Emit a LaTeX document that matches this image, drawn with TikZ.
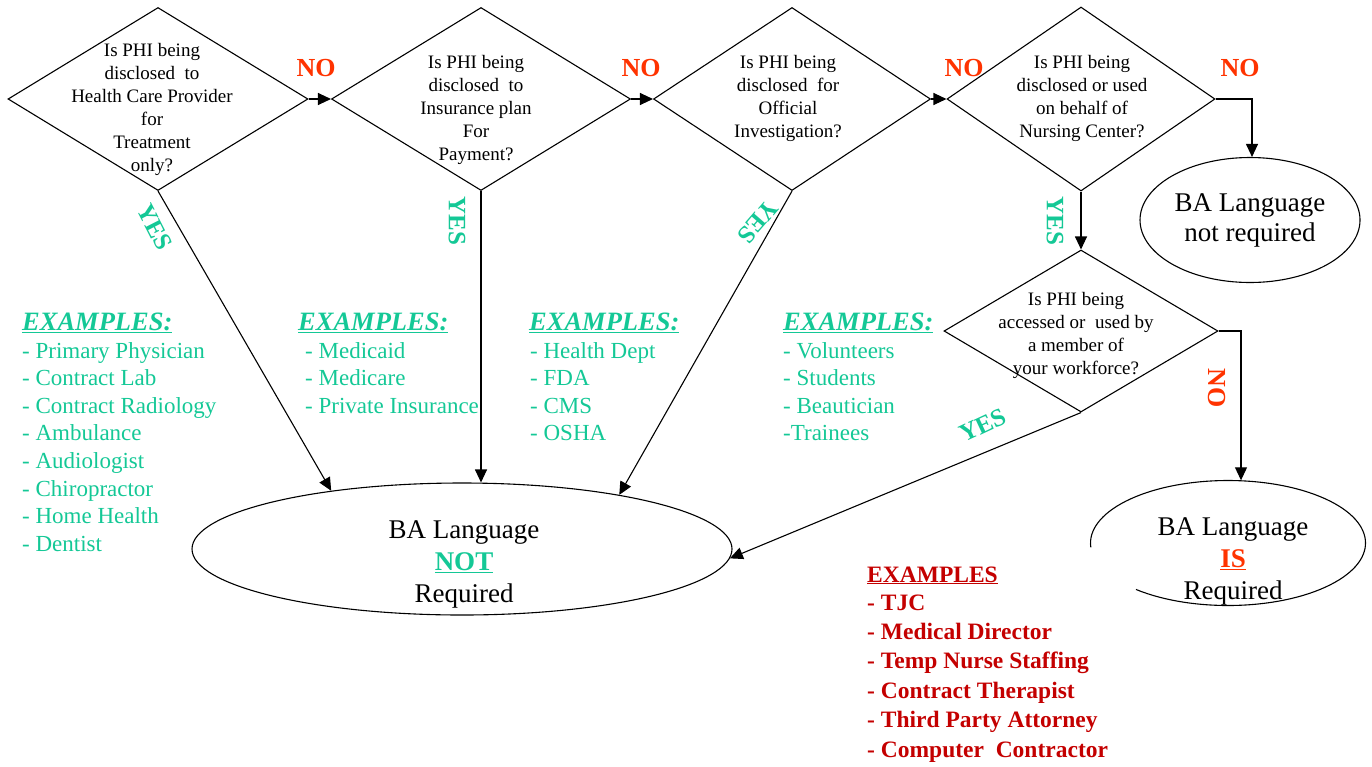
\documentclass[tikz,border=0pt]{standalone}
\usepackage{fontspec}
\setmainfont{Liberation Serif}
\usetikzlibrary{shapes.geometric,arrows.meta}
\definecolor{noRed}{RGB}{255,51,0}
\definecolor{yesGreen}{RGB}{20,200,150}
\definecolor{exRed}{RGB}{196,0,0}
\begin{document}
\begin{tikzpicture}[x=1pt,y=-1pt,
  dia/.style={diamond, draw, line width=1.1pt, inner sep=0pt},
  qtext/.style={align=center, inner sep=0pt, font=\fontsize{19}{23}\selectfont},
  oval/.style={ellipse, draw, line width=1.1pt, inner sep=0pt},
  bigtext/.style={align=center, inner sep=0pt, font=\fontsize{27}{32}\selectfont},
  arr/.style={line width=1.1pt, -{Triangle[length=13pt,width=12pt]}},
  nolab/.style={text=noRed, inner sep=0pt, font=\fontsize{26}{26}\selectfont\bfseries},
  yeslab/.style={text=yesGreen, inner sep=0pt, font=\fontsize{25}{25}\selectfont\bfseries},
  exhead/.style={anchor=base west, inner sep=0pt, text=yesGreen, font=\fontsize{26.5}{30}\selectfont\bfseries\itshape},
  exitem/.style={anchor=base west, inner sep=0pt, text=yesGreen, font=\fontsize{23}{27}\selectfont},
  redhead/.style={anchor=base west, inner sep=0pt, text=exRed, font=\fontsize{23.5}{28}\selectfont\bfseries},
  reditem/.style={anchor=base west, inner sep=0pt, text=exRed, font=\fontsize{23.5}{28}\selectfont\bfseries}
]
\useasboundingbox (0,0) rectangle (1372,766);

% decision diamonds
\node[dia, minimum width=300pt, minimum height=183pt] (d1) at (158,99) {};
\node[dia, minimum width=299pt, minimum height=183pt] (d2) at (481,99) {};
\node[dia, minimum width=277pt, minimum height=183pt] (d3) at (792,99) {};
\node[dia, minimum width=268pt, minimum height=184pt] (d4) at (1081,99) {};
\node[dia, minimum width=274pt, minimum height=162pt] (d5) at (1081,331) {};

\node[qtext] (t1) at (152,109) {Is PHI being\\disclosed\ \ to\\Health Care Provider\\for\\Treatment\\only?};
\node[qtext] (t2) at (476,110) {Is PHI being\\disclosed\ \ to\\Insurance plan\\For\\Payment?};
\node[qtext] (t3) at (788,98) {Is PHI being\\disclosed\ \ for\\Official\\Investigation?};
\node[qtext] (t4) at (1082,98) {Is PHI being\\disclosed or used\\on behalf of\\Nursing Center?};
\node[qtext] (t5) at (1076,335) {Is PHI being\\accessed or\ \ used by\\a member of\\your workforce?};

% outcome ellipses
\node[oval, minimum width=540pt, minimum height=132pt] (NOTe) at (462,549) {};
\node[bigtext] (notT) at (464,564) {BA Language\\{\color{yesGreen}\underline{\textbf{NOT}}}\\Required};

\node[oval, minimum width=220pt, minimum height=125pt, align=center,
      font=\fontsize{27}{30}\selectfont] (nr) at (1250,220) {BA Language\\not required};

\node[ellipse, draw=none, inner sep=0pt, minimum width=275pt, minimum height=125pt] (isE) at (1228,543) {};
\begin{scope}[y=1pt]
\draw[line width=1.1pt] ([shift={(228:137.5 and 62.5)}]isE.center)
  arc[start angle=228, end angle=544, x radius=137.5, y radius=62.5];
\end{scope}
\node[bigtext] (isT) at (1233,561) {BA Language\\{\color{noRed}\underline{\textbf{IS}}}\\Required};

% connectors
\draw[arr] (d1.east) -- (d2.west);
\draw[arr] (d2.east) -- (d3.west);
\draw[arr] (d3.east) -- (d4.west);
\draw[arr] (d4.east) -| ([xshift=2pt]nr.north);
\draw[arr] (d4.south) -- (d5.north);
\draw[arr] (d5.east) -| ([xshift=13pt]isE.north);
\draw[arr] (d1.south) -- (NOTe.156);
\draw[arr] (d2.south) -- (d2.south |- NOTe.north);
\draw[arr] (d3.south) -- (NOTe.19);
\draw[arr] (d5.south) -- (NOTe.-2);

% labels
\node[nolab] (no1) at (316,68) {NO};
\node[nolab] (no2) at (641,68) {NO};
\node[nolab] (no3) at (964,68) {NO};
\node[nolab] (no4) at (1240,68) {NO};
\node[nolab, rotate=-90] (no5) at (1217,388) {NO};

\node[yeslab, rotate=-63] (y1) at (155,227) {YES};
\node[yeslab, rotate=-90] (y2) at (457,221) {YES};
\node[yeslab, rotate=229] (y3) at (758,222) {YES};
\node[yeslab, rotate=-90] (y4) at (1055,221) {YES};
\node[yeslab, rotate=25] (y5) at (983,425) {YES};

% example lists
\node[exhead] (h1) at (22,330) {\underline{EXAMPLES:}};
\foreach \t [count=\i from 0] in {Primary Physician, Contract Lab, Contract Radiology, Ambulance, Audiologist, Chiropractor, Home Health, Dentist}
  \node[exitem] (a\i) at (22,{358+27.6*\i}) {- \t};

\node[exhead] (h2) at (298,330) {\underline{EXAMPLES:}};
\foreach \t [count=\i from 0] in {Medicaid, Medicare, Private Insurance}
  \node[exitem] (b\i) at (305,{358+27.6*\i}) {- \t};

\node[exhead] (h3) at (529,330) {\underline{EXAMPLES:}};
\foreach \t [count=\i from 0] in {Health Dept, FDA, CMS, OSHA}
  \node[exitem] (c\i) at (530,{358+27.6*\i}) {- \t};

\node[exhead] (h4) at (783,330) {\underline{EXAMPLES:}};
\node[exitem] (e0) at (783,358) {- Volunteers};
\node[exitem] (e1) at (783,385.6) {- Students};
\node[exitem] (e2) at (783,413.2) {- Beautician};
\node[exitem] (e3) at (783,440.8) {-Trainees};

\node[redhead] (h5) at (867,582) {\underline{EXAMPLES}};
\foreach \t [count=\i from 0] in {TJC, Medical Director, Temp Nurse Staffing, Contract Therapist, Third Party Attorney, Computer\ \ Contractor}
  \node[reditem] (r\i) at (867,{610+29.4*\i}) {- \t};
\end{tikzpicture}
\end{document}
